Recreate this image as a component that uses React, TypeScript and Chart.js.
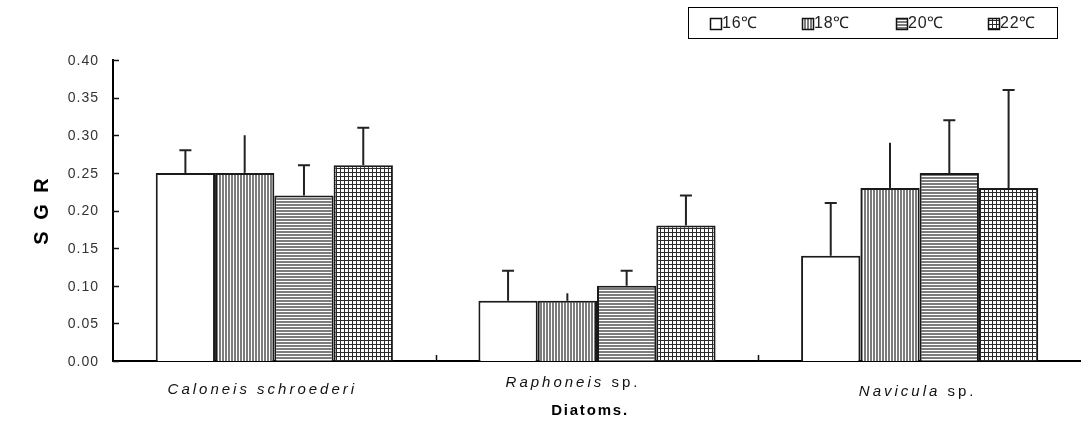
import React, { useEffect, useRef } from 'react';
import { Chart, registerables } from 'chart.js';

Chart.register(...registerables);

// Diatom species (genus part is set in italics)
const genusNames = ['Caloneis schroederi', 'Raphoneis', 'Navicula'];
const nameSuffixes = ['', ' sp.', ' sp.'];
const categories = genusNames.map((g, i) => g + nameSuffixes[i]);

// Culture temperatures
const seriesLabels = ['16℃', '18℃', '20℃', '22℃'];

// Specific growth rate (mean) per temperature
const sgr16 = [0.25, 0.08, 0.14];
const sgr18 = [0.25, 0.08, 0.23];
const sgr20 = [0.22, 0.1, 0.25];
const sgr22 = [0.26, 0.18, 0.23];

// Upper error (standard deviation)
const err16 = [0.03, 0.04, 0.07];
const err18 = [0.05, 0.01, 0.06];
const err20 = [0.04, 0.02, 0.07];
const err22 = [0.05, 0.04, 0.13];

const yTicks = [0, 0.05, 0.1, 0.15, 0.2, 0.25, 0.3, 0.35, 0.4];

const seriesValues = [sgr16, sgr18, sgr20, sgr22];
const seriesErrors = [err16, err18, err20, err22];
const seriesCaps = [true, false, true, true];
const seriesFills = ['plain', 'vertical', 'horizontal', 'grid'];

const FONT = '"Liberation Sans", Arial, sans-serif';

function makeFill(ctx: CanvasRenderingContext2D, kind: string): string | CanvasPattern {
  if (kind === 'plain') return '#ffffff';
  const tile = document.createElement('canvas');
  const t = tile.getContext('2d')!;
  if (kind === 'vertical') {
    tile.width = 3; tile.height = 1;
    t.fillStyle = '#ffffff'; t.fillRect(0, 0, 3, 1);
    t.fillStyle = '#7c7c7c'; t.fillRect(0, 0, 2, 1);
  } else if (kind === 'horizontal') {
    tile.width = 1; tile.height = 3;
    t.fillStyle = '#ffffff'; t.fillRect(0, 0, 1, 3);
    t.fillStyle = '#7c7c7c'; t.fillRect(0, 0, 1, 2);
  } else {
    tile.width = 4; tile.height = 4;
    t.fillStyle = '#ffffff'; t.fillRect(0, 0, 4, 4);
    t.fillStyle = '#2a2a2a';
    t.fillRect(0, 0, 4, 1);
    t.fillRect(0, 0, 1, 4);
  }
  return ctx.createPattern(tile, 'repeat')!;
}

function spacedText(ctx: CanvasRenderingContext2D, text: string, x: number, y: number, spacing: number) {
  (ctx as any).letterSpacing = spacing + 'px';
  ctx.fillText(text, x, y);
  (ctx as any).letterSpacing = '0px';
}

const decorations = {
  id: 'sgrDecorations',
  afterDatasetsDraw(chart: any) {
    const { ctx, scales } = chart;
    const y = scales.y;
    ctx.save();
    ctx.strokeStyle = '#222';
    ctx.lineWidth = 2;
    chart.data.datasets.forEach((ds: any, di: number) => {
      const meta = chart.getDatasetMeta(di);
      meta.data.forEach((bar: any, i: number) => {
        const top = y.getPixelForValue(ds.data[i] + seriesErrors[di][i]);
        ctx.beginPath();
        ctx.moveTo(bar.x, bar.y);
        ctx.lineTo(bar.x, top);
        if (seriesCaps[di]) {
          ctx.moveTo(bar.x - 6, top);
          ctx.lineTo(bar.x + 6, top);
        }
        ctx.stroke();
      });
    });
    ctx.restore();
  },
  afterDraw(chart: any) {
    const { ctx, scales, chartArea } = chart;
    const x = scales.x;
    const y = scales.y;
    ctx.save();

    // inner tick marks on the value axis
    ctx.strokeStyle = '#111';
    ctx.lineWidth = 1.5;
    yTicks.forEach((v) => {
      const py = Math.round(y.getPixelForValue(v)) + 0.5;
      ctx.beginPath();
      ctx.moveTo(chartArea.left, py);
      ctx.lineTo(chartArea.left + 6, py);
      ctx.stroke();
    });
    // short separators between species groups
    for (let i = 1; i < categories.length; i++) {
      const px = Math.round((x.getPixelForValue(i - 1) + x.getPixelForValue(i)) / 2) + 0.5;
      ctx.beginPath();
      ctx.moveTo(px, chartArea.bottom);
      ctx.lineTo(px, chartArea.bottom - 6);
      ctx.stroke();
    }

    // value axis labels
    ctx.fillStyle = '#333';
    ctx.font = `14px ${FONT}`;
    ctx.textAlign = 'right';
    ctx.textBaseline = 'middle';
    yTicks.forEach((v) => {
      spacedText(ctx, v.toFixed(2), 99, y.getPixelForValue(v) + 1, 1);
    });

    // species labels: genus in italics, "sp." upright
    const labelShift = [[-12, 390], [-24, 383], [-2, 392]];
    ctx.fillStyle = '#111';
    ctx.textBaseline = 'middle';
    ctx.textAlign = 'left';
    categories.forEach((_, i) => {
      const italic = `italic 15px ${FONT}`;
      const upright = `15px ${FONT}`;
      const sp = 3;
      (ctx as any).letterSpacing = sp + 'px';
      ctx.font = italic;
      const w1 = ctx.measureText(genusNames[i]).width;
      ctx.font = upright;
      const w2 = nameSuffixes[i] ? ctx.measureText(nameSuffixes[i]).width : 0;
      const cx = x.getPixelForValue(i) + labelShift[i][0];
      const left = cx - (w1 + w2) / 2;
      ctx.font = italic;
      ctx.fillText(genusNames[i], left, labelShift[i][1]);
      if (nameSuffixes[i]) {
        ctx.font = upright;
        ctx.fillText(nameSuffixes[i], left + w1, labelShift[i][1]);
      }
      (ctx as any).letterSpacing = '0px';
    });

    // axis titles
    ctx.fillStyle = '#000';
    ctx.font = `bold 15px ${FONT}`;
    ctx.textAlign = 'center';
    spacedText(ctx, 'Diatoms.', 590, 411, 1.8);

    ctx.save();
    ctx.translate(42, 210);
    ctx.rotate(-Math.PI / 2);
    ctx.font = `bold 20px ${FONT}`;
    spacedText(ctx, 'S G R', 0, 0, 3);
    ctx.restore();

    // legend box
    ctx.strokeStyle = '#000';
    ctx.lineWidth = 1;
    ctx.strokeRect(688.5, 7.5, 369, 31);
    const swatchX = [710, 802, 896, 988];
    chart.data.datasets.forEach((ds: any, di: number) => {
      const sx = swatchX[di];
      ctx.fillStyle = ds.backgroundColor;
      ctx.fillRect(sx, 18, 12, 12);
      ctx.strokeStyle = '#111';
      ctx.lineWidth = 1.5;
      ctx.strokeRect(sx + 0.5, 18.5, 11, 11);
      ctx.fillStyle = '#222';
      ctx.font = `16px ${FONT}`;
      ctx.textAlign = 'left';
      ctx.textBaseline = 'middle';
      spacedText(ctx, ds.label, sx + 12, 24, 0.8);
    });

    ctx.restore();
  },
};

export default function App() {
  const canvasRef = useRef<HTMLCanvasElement | null>(null);

  useEffect(() => {
    document.body.style.margin = '0';
    const canvas = canvasRef.current!;
    const ctx = canvas.getContext('2d')!;
    const chart = new Chart(canvas, {
      type: 'bar',
      data: {
        labels: categories,
        datasets: seriesLabels.map((label, di) => ({
          label,
          data: seriesValues[di],
          backgroundColor: makeFill(ctx, seriesFills[di]) as any,
          borderColor: '#1a1a1a',
          borderWidth: 2,
          categoryPercentage: 0.735,
          barPercentage: 1.0,
        })),
      },
      options: {
        animation: false,
        responsive: false,
        events: [],
        layout: { padding: { top: 60, left: 0, right: 0, bottom: 0 } },
        plugins: { legend: { display: false }, tooltip: { enabled: false } },
        scales: {
          x: {
            grid: { display: false },
            ticks: { display: false },
            border: { color: '#000', width: 2 },
            afterFit: (s: any) => { s.height = 85; },
          },
          y: {
            min: 0,
            max: 0.4,
            ticks: { display: false, stepSize: 0.05 },
            grid: { display: false },
            border: { color: '#000', width: 2 },
            afterFit: (s: any) => { s.width = 113; },
          },
        },
      },
      plugins: [decorations],
    });
    return () => chart.destroy();
  }, []);

  return (
    <div style={{ width: 1081, height: 446, background: '#fff' }}>
      <canvas ref={canvasRef} width={1081} height={446} />
    </div>
  );
}
